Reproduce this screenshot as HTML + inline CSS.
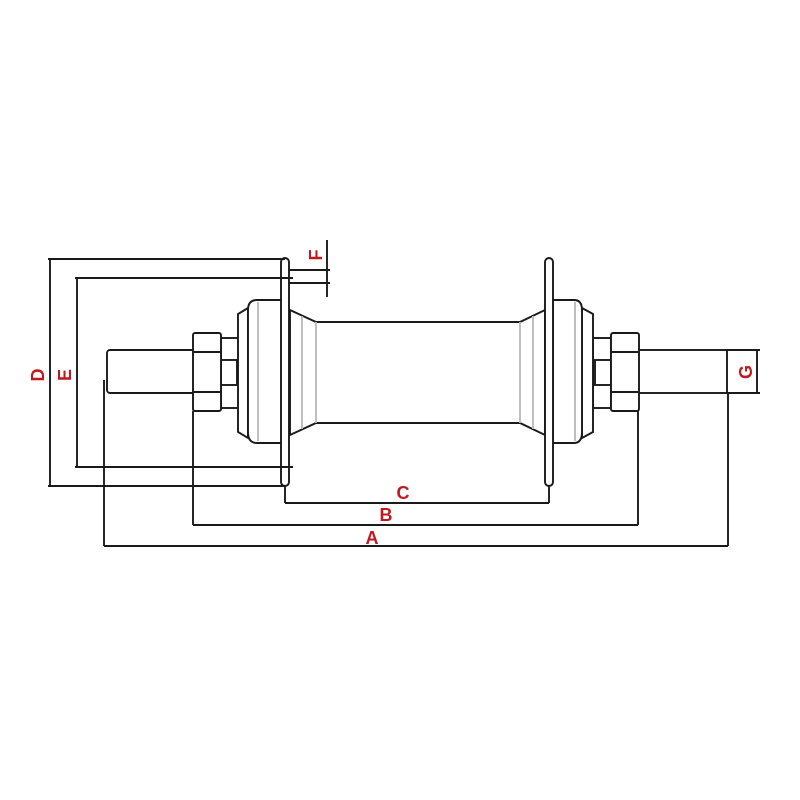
<!DOCTYPE html>
<html><head><meta charset="utf-8"><style>html,body{margin:0;padding:0;background:#fff}svg{display:block}</style></head>
<body>
<svg width="800" height="800" viewBox="0 0 800 800" xmlns="http://www.w3.org/2000/svg">
<g fill="#fff" stroke="#1a1a1a" stroke-width="1.9">
<rect x="107" y="350" width="88" height="43" rx="3"/>
<rect x="637" y="350" width="90" height="43"/>
<rect x="221" y="338" width="19" height="70"/>
<rect x="221" y="360" width="16" height="25"/>
<rect x="193" y="333" width="28" height="78" rx="2"/>
<line x1="193" y1="352" x2="221" y2="352"/><line x1="193" y1="392" x2="221" y2="392"/>
<rect x="593" y="338" width="18" height="70"/>
<rect x="595" y="360" width="16" height="25"/>
<rect x="611" y="333" width="28" height="78" rx="2"/>
<line x1="611" y1="352" x2="639" y2="352"/><line x1="611" y1="392" x2="639" y2="392"/>
<path d="M290 310 L316 322 L520 322 L545 310 L545 435 L520 423 L316 423 L290 435 Z"/>
<line x1="316" y1="322" x2="316" y2="423" stroke="#bbb"/>
<line x1="520" y1="322" x2="520" y2="423" stroke="#bbb"/>
<line x1="302" y1="316" x2="302" y2="429" stroke="#bbb"/>
<line x1="533" y1="316" x2="533" y2="429" stroke="#bbb"/>
<path d="M248 308 L238 314 L238 432 L248 438 Z"/>
<path d="M257 300 L282 300 L282 443 L257 443 Q248 443 248 432 L248 310 Q248 300 257 300 Z"/>
<line x1="258" y1="302" x2="258" y2="441" stroke="#bbb"/>
<path d="M582 308 L593 314 L593 432 L582 438 Z"/>
<path d="M553 300 L574 300 Q582 300 582 310 L582 432 Q582 443 574 443 L553 443 Z"/>
<line x1="575" y1="302" x2="575" y2="441" stroke="#bbb"/>
<rect x="281" y="258" width="8" height="228" rx="4"/>
<rect x="545" y="258" width="8" height="228" rx="4"/>
</g>
<g stroke="#1a1a1a" stroke-width="1.9" fill="none">
<line x1="50" y1="259" x2="50" y2="486"/>
<line x1="48" y1="259" x2="285" y2="259"/>
<line x1="48" y1="486" x2="285" y2="486"/>
<line x1="77" y1="278" x2="77" y2="467"/>
<line x1="75" y1="278" x2="293" y2="278"/>
<line x1="75" y1="467" x2="293" y2="467"/>
<line x1="327" y1="240" x2="327" y2="297"/>
<line x1="289" y1="270" x2="330" y2="270"/>
<line x1="289" y1="283" x2="330" y2="283"/>
<line x1="285" y1="486" x2="285" y2="503"/>
<line x1="549" y1="486" x2="549" y2="503"/>
<line x1="285" y1="503" x2="549" y2="503"/>
<line x1="193" y1="411" x2="193" y2="525"/>
<line x1="638" y1="411" x2="638" y2="525"/>
<line x1="193" y1="525" x2="638" y2="525"/>
<line x1="104" y1="380" x2="104" y2="546"/>
<line x1="728" y1="393" x2="728" y2="546"/>
<line x1="104" y1="546" x2="728" y2="546"/>
<line x1="757" y1="350" x2="757" y2="393"/>
<line x1="727" y1="350" x2="760" y2="350"/>
<line x1="727" y1="393" x2="760" y2="393"/>
</g>
<g fill="#c0181c" font-family="Liberation Sans, sans-serif" font-weight="bold" font-size="18" text-anchor="middle">
<text x="403" y="499">C</text>
<text x="386" y="521">B</text>
<text x="372" y="544">A</text>
<text transform="translate(44,375) rotate(-90)">D</text>
<text transform="translate(71,375) rotate(-90)">E</text>
<text transform="translate(322,255) rotate(-90)">F</text>
<text transform="translate(752,372) rotate(-90)">G</text>
</g>
</svg>
</body></html>
